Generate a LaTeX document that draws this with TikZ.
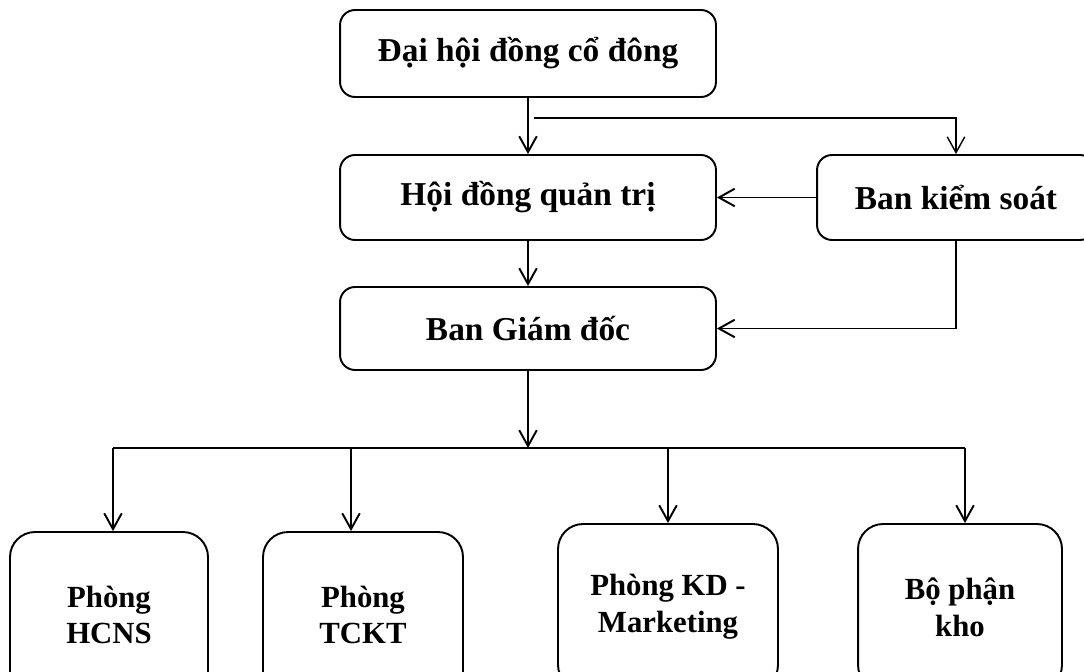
\documentclass[tikz,border=0pt]{standalone}
\usepackage{fontspec}
\setmainfont{Liberation Serif}
\usetikzlibrary{arrows.meta}

\begin{document}
\begin{tikzpicture}[x=0.02cm,y=-0.02cm,
  box/.style={draw,line width=1.1pt,rounded corners=0.3cm,inner sep=0pt,
    font=\fontsize{19}{23}\selectfont\bfseries},
  dept/.style={draw,line width=1.1pt,rounded corners=0.5cm,inner sep=0pt,
    align=center,minimum height=3.32cm,font=\fontsize{17.5}{21}\selectfont\bfseries},
  arr/.style={line width=1.1pt,-{Straight Barb[length=9pt,width=10pt]}}]
\useasboundingbox (0,0) rectangle (1084,672);

\node[box,minimum width=7.52cm,minimum height=1.74cm] (dhcd) at (528,53.5) {Đại hội đồng cổ đông};
\node[box,minimum width=7.52cm,minimum height=1.7cm] (hdqt) at (528,197.5) {Hội đồng quản trị};
\node[box,minimum width=5.56cm,minimum height=1.7cm] (bks) at (956,197.5) {Ban kiểm soát};
\node[box,minimum width=7.52cm,minimum height=1.66cm] (bgd) at (528,328.5) {Ban Giám đốc};

\node[dept,minimum width=3.96cm] (hcns) at (109,615) {Phòng\\HCNS};
\node[dept,minimum width=4cm] (tckt) at (363,615) {Phòng\\TCKT};
\node[dept,minimum width=4.4cm] (kd) at (668,607) {Phòng KD -\\Marketing};
\node[dept,minimum width=4.08cm] (kho) at (960,607) {Bộ phận\\kho};

\coordinate (c1) at (534,118);
\coordinate (c2) at (528,448);
\coordinate (d1) at (113,448);
\coordinate (d2) at (351,448);
\coordinate (d3) at (668,448);
\coordinate (d4) at (965,448);

\draw[arr] (dhcd) -- (hdqt);
\draw[arr,line width=0.8pt] (c1) -| (bks.north);
\draw[arr] (bks.west) -- (hdqt.east);
\draw[arr] (hdqt) -- (bgd);
\draw[arr] (bks.south) |- (bgd.east);
\draw[arr] (bgd.south) -- (c2);

\draw[line width=0.7pt] (d1) -- (d4);
\draw[arr] (d1) -- (d1 |- hcns.north);
\draw[arr] (d2) -- (d2 |- tckt.north);
\draw[arr] (d3) -- (d3 |- kd.north);
\draw[arr] (d4) -- (d4 |- kho.north);
\end{tikzpicture}
\end{document}
